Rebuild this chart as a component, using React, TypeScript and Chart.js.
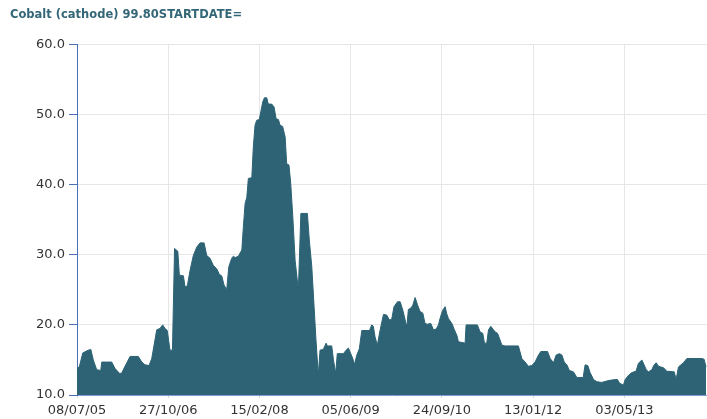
import React, { useEffect, useRef } from "react";
import { Chart, registerables } from "chart.js";

Chart.register(...registerables);

const titleText = "Cobalt (cathode) 99.80STARTDATE=";

// x tick positions: days since 08/07/05
const tickDays = [0, 476, 952, 1428, 1904, 2380, 2856];
const tickLabels = ["08/07/05", "27/10/06", "15/02/08", "05/06/09", "24/09/10", "13/01/12", "03/05/13"];
const yTicks = [10, 20, 30, 40, 50, 60];

// observation day offsets (days since 08/07/05)
const dayOffsets = [
  0, 12, 30, 59, 72, 85, 103, 124, 129, 181, 198, 221, 233, 245, 277, 320, 338, 355, 376, 390,
  416, 433, 447, 459, 471, 485, 498, 509, 526, 534, 555, 564, 576, 590, 607, 625, 642, 663, 677, 694,
  711, 729, 743, 755, 767, 781, 792, 807, 816, 825, 842, 860, 868, 877, 886, 894, 912, 920, 929, 938,
  951, 959, 969, 978, 990, 998, 1016, 1028, 1039, 1051, 1059, 1073, 1086, 1094, 1106, 1115, 1126, 1138, 1155, 1168,
  1202, 1212, 1225, 1237, 1247, 1259, 1268, 1285, 1300, 1306, 1329, 1338, 1350, 1358, 1390, 1404, 1416, 1425, 1439, 1447,
  1460, 1473, 1486, 1526, 1538, 1546, 1555, 1567, 1581, 1599, 1616, 1630, 1642, 1654, 1672, 1686, 1700, 1712, 1721, 1729,
  1742, 1752, 1764, 1776, 1790, 1804, 1816, 1828, 1846, 1860, 1874, 1886, 1894, 1908, 1921, 1929, 1938, 1956, 1969, 1982,
  1990, 2025, 2030, 2089, 2103, 2117, 2126, 2138, 2147, 2159, 2173, 2182, 2194, 2204, 2217, 2234, 2303, 2321, 2338, 2355,
  2373, 2390, 2408, 2420, 2455, 2469, 2486, 2500, 2517, 2530, 2542, 2556, 2569, 2590, 2608, 2641, 2651, 2665, 2677, 2695,
  2712, 2738, 2765, 2782, 2808, 2820, 2830, 2851, 2860, 2877, 2895, 2917, 2929, 2947, 2959, 2970, 2982, 2999, 3011, 3022,
  3034, 3046, 3060, 3077, 3116, 3126, 3138, 3151, 3164, 3182, 3260, 3272, 3282,
];

// cobalt price (USD/lb)
const prices = [
  13.8, 14.0, 16.0, 16.4, 16.5, 15.0, 13.6, 13.5, 14.7, 14.7, 13.8, 13.1, 13.1, 13.8, 15.5, 15.5, 14.7, 14.3, 14.2, 15.2,
  19.3, 19.5, 20.0, 19.5, 19.2, 16.4, 16.4, 30.9, 30.5, 27.1, 27.0, 25.4, 25.6, 27.8, 29.9, 31.1, 31.7, 31.7, 29.9, 29.5,
  28.5, 28.0, 27.2, 27.0, 25.7, 25.0, 28.3, 29.5, 29.8, 29.6, 29.8, 30.7, 34.0, 37.3, 38.2, 40.9, 41.0, 45.4, 48.5, 49.2,
  49.3, 50.4, 51.8, 52.4, 52.4, 51.5, 51.5, 51.1, 49.4, 49.3, 48.5, 48.3, 46.8, 43.0, 42.8, 40.2, 35.4, 29.2, 25.0, 35.9,
  35.9, 32.1, 28.3, 22.6, 17.8, 12.8, 16.4, 16.5, 17.4, 17.0, 17.0, 15.0, 13.1, 15.9, 15.9, 16.4, 16.7, 16.1, 15.2, 14.3,
  15.7, 16.6, 19.2, 19.2, 20.0, 19.8, 18.3, 17.1, 19.2, 21.5, 21.4, 20.7, 20.8, 22.6, 23.3, 23.3, 22.1, 20.7, 19.7, 22.2,
  22.4, 22.8, 23.9, 22.9, 21.9, 21.7, 20.2, 20.1, 20.2, 19.3, 19.4, 20.0, 20.9, 22.1, 22.6, 21.6, 20.9, 20.2, 19.3, 18.5,
  17.6, 17.4, 20.0, 20.0, 19.0, 18.8, 17.4, 17.4, 19.3, 19.8, 19.3, 19.0, 18.8, 18.1, 17.1, 17.0, 17.0, 15.2, 14.7, 14.1,
  14.2, 14.7, 15.7, 16.2, 16.2, 15.2, 14.6, 15.7, 15.9, 15.7, 14.7, 14.3, 13.5, 13.3, 12.5, 12.5, 14.3, 14.2, 13.2, 12.2,
  11.9, 11.8, 12.0, 12.1, 12.2, 12.2, 11.7, 11.4, 12.2, 12.8, 13.2, 13.4, 14.5, 15.0, 14.3, 13.6, 13.3, 13.6, 14.3, 14.6,
  14.1, 14.0, 13.9, 13.4, 13.3, 12.2, 14.0, 14.3, 14.6, 15.2, 15.2, 15.1, 14.0,
];

const xMax = 3287;

export default function App() {
  const canvasRef = useRef<HTMLCanvasElement | null>(null);

  useEffect(() => {
    const canvas = canvasRef.current;
    if (!canvas) return;
    const points = dayOffsets.map((d, i) => ({ x: d, y: prices[i] }));
    const chart = new Chart(canvas, {
      type: "line",
      data: {
        datasets: [
          {
            data: points,
            borderColor: "#2d6375",
            backgroundColor: "#2d6375",
            borderWidth: 1,
            pointRadius: 0,
            tension: 0,
            fill: "start",
          },
        ],
      },
      options: {
        animation: false,
        responsive: false,
        layout: { padding: { left: 10, right: 0, top: 0, bottom: 0 } },
        plugins: {
          legend: { display: false },
          tooltip: { enabled: false },
          title: {
            display: true,
            text: titleText,
            align: "start",
            color: "#336677",
            font: { family: "DejaVu Sans", size: 11.5, weight: "bold", lineHeight: 1.2 },
            padding: { top: 8, bottom: 22.7 },
          },
        },
        scales: {
          x: {
            type: "linear",
            min: 0,
            max: xMax,
            afterBuildTicks: (scale: any) => {
              scale.ticks = tickDays.map((v) => ({ value: v }));
            },
            afterFit: (scale: any) => {
              scale.height = 24;
            },
            ticks: {
              autoSkip: false,
              maxRotation: 0,
              minRotation: 0,
              align: "center",
              padding: 5,
              color: "#333333",
              font: { family: "DejaVu Sans", size: 13 },
              callback: (v: any) => {
                const k = tickDays.indexOf(Number(v));
                return k >= 0 ? tickLabels[k] : "";
              },
            },
            grid: { color: "#e6e6e6", tickColor: "#d8d8d8", tickLength: 3 },
            border: { color: "#7f9bd0", width: 1 },
          },
          y: {
            min: 10,
            max: 60,
            afterBuildTicks: (scale: any) => {
              scale.ticks = yTicks.map((v) => ({ value: v }));
            },
            afterFit: (scale: any) => {
              scale.width = 67;
            },
            ticks: {
              padding: 4,
              color: "#333333",
              font: { family: "DejaVu Sans", size: 13 },
              callback: (v: any) => Number(v).toFixed(1),
            },
            grid: { color: "#e6e6e6", tickColor: "#4a6fb5", tickLength: 8 },
            border: { color: "#4a6fb5", width: 1 },
          },
        },
      },
    });
    return () => chart.destroy();
  }, []);

  return (
    <div style={{ position: "fixed", left: 0, top: 0, width: 707, height: 419, background: "#ffffff" }}>
      <canvas ref={canvasRef} width={707} height={419} style={{ display: "block" }} />
    </div>
  );
}
